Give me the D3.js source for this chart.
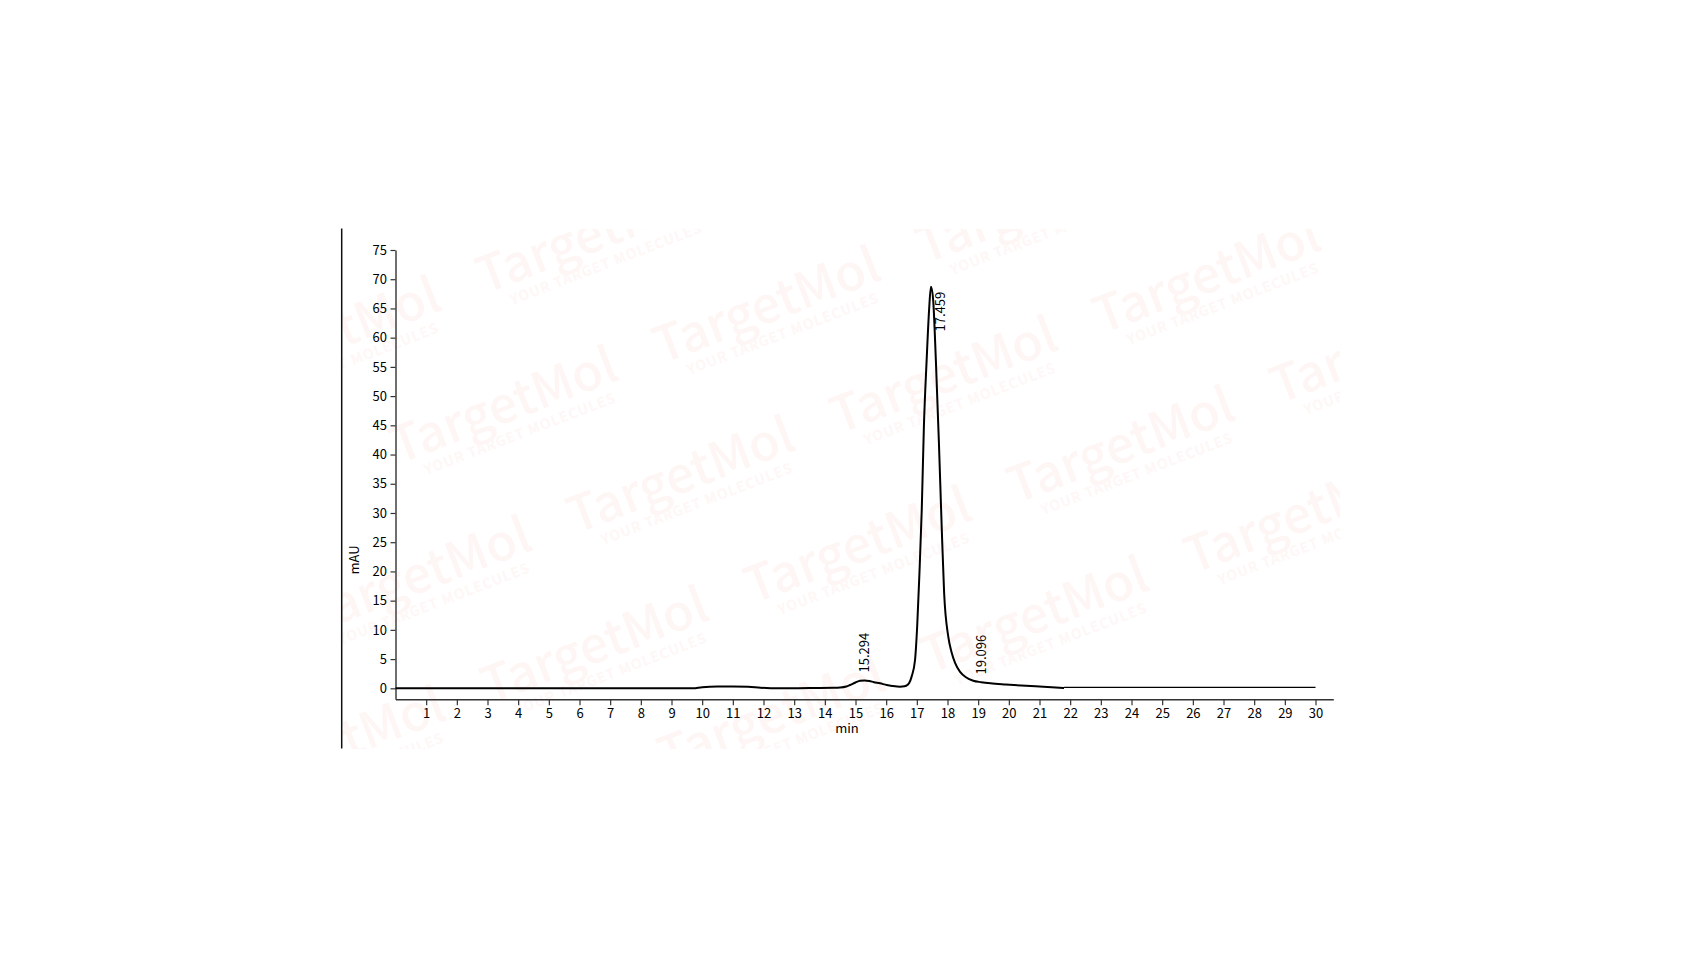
<!DOCTYPE html>
<html>
<head>
<meta charset="utf-8">
<script src="https://cdn.jsdelivr.net/npm/d3@7"></script>
<style>
  html, body { margin: 0; padding: 0; background: #fff; }
  svg { display: block; }
  text { font-family: "Noto Sans CJK SC", "Noto Sans", sans-serif; }
</style>
</head>
<body>
<svg id="chart" width="1684" height="976"></svg>
<script>
// ---- data ----
const traceTimes = [0, 9.7, 10.0, 10.5, 11.0, 11.5, 11.9, 12.5, 13.5, 14.3, 14.5, 14.7, 14.82, 15.0, 15.15, 15.3, 15.45, 15.6, 15.8, 16.02, 16.2, 16.45, 16.6, 16.69, 16.75, 16.83, 16.94, 17.01, 17.08, 17.16, 17.23, 17.32, 17.40, 17.46, 17.53, 17.62, 17.72, 17.81, 17.89, 18.02, 18.13, 18.25, 18.41, 18.6, 18.84, 19.1, 19.4, 19.9, 20.4, 21.0, 21.4, 21.8];
const traceValues = [0, 0, 0.2, 0.3, 0.3, 0.25, 0.1, 0.0, 0.05, 0.08, 0.12, 0.3, 0.56, 1.0, 1.3, 1.35, 1.25, 1.05, 0.85, 0.56, 0.4, 0.27, 0.35, 0.56, 0.9, 2.0, 4.8, 10.5, 19.1, 30.5, 44.8, 56.2, 64.8, 68.7, 66.6, 56.2, 42.0, 27.7, 16.3, 9.0, 6.2, 4.3, 2.8, 1.9, 1.3, 1.05, 0.85, 0.65, 0.48, 0.3, 0.18, 0.05];
const tailTimes = [21.8, 30];
const tailValues = [0.15, 0.15];
const peakTimes = [15.294, 17.459, 19.096];
const peakHeights = [1.35, 68.7, 1.0];
const peakLabels = ["15.294", "17.459", "19.096"];
const xTicks = d3.range(1, 31);
const yTicks = d3.range(0, 80, 5);
const watermarkMain = "TargetMol";
const watermarkSub = "YOUR TARGET MOLECULES";
// watermark lattice cells [i, j]
const watermarkCells = [[-1,0],[0,-1],[-1,1],[0,0],[1,-1],[0,1],[1,0],[2,-1],[2,0],[1,1],[3,0],[1,2],[2,1],[3,1],[2,2],[3,2],[2,3]];

// ---- layout ----
const svg = d3.select("#chart");
const x = d3.scaleLinear().domain([0, 30.58]).range([395.5, 1333.3]);
const y = d3.scaleLinear().domain([-1.88, 75]).range([699.3, 250]);

// watermark layer (clipped to chart frame)
svg.append("defs").append("clipPath").attr("id", "wmclip")
  .append("rect").attr("x", 342).attr("y", 229).attr("width", 998).attr("height", 520);
const wm = svg.append("g").attr("clip-path", "url(#wmclip)");
const origin = [765, 301], vA = [177, 70], vB = [-263, 100];
watermarkCells.forEach(([i, j]) => {
  const cx = origin[0] + i * vA[0] + j * vB[0];
  const cy = origin[1] + i * vA[1] + j * vB[1];
  const g = wm.append("g").attr("transform", `translate(${cx},${cy}) rotate(-21)`);
  g.append("text").attr("text-anchor", "middle").attr("dominant-baseline", "central")
    .attr("font-family", "'Open Sans', sans-serif").attr("font-weight", 500)
    .attr("font-size", 50).attr("fill", "#fef6f5").text(watermarkMain);
  g.append("text").attr("x", 5).attr("y", 36).attr("text-anchor", "middle").attr("dominant-baseline", "central")
    .attr("font-family", "'Open Sans', sans-serif").attr("font-weight", 700)
    .attr("font-size", 14).attr("letter-spacing", 1).attr("fill", "#fef7f6").text(watermarkSub);
});

// left frame line
svg.append("line").attr("x1", 341.7).attr("x2", 341.7).attr("y1", 228.5).attr("y2", 748.5)
  .attr("stroke", "#111").attr("stroke-width", 1.5);

// axes
const xAxis = d3.axisBottom(x).tickValues(xTicks).tickFormat(d3.format("d")).tickSizeInner(6).tickSizeOuter(0).tickPadding(3);
const yAxis = d3.axisLeft(y).tickValues(yTicks).tickFormat(d3.format("d")).tickSizeInner(5).tickSizeOuter(0).tickPadding(3.5);

const gx = svg.append("g").attr("transform", `translate(0,${y.range()[0]})`).call(xAxis);
const gy = svg.append("g").attr("transform", `translate(${x.range()[0]},0)`).call(yAxis);
[gx, gy].forEach(g => {
  g.select(".domain").attr("stroke", "#333").attr("stroke-width", 1.4);
  g.selectAll(".tick line").attr("stroke", "#333").attr("stroke-width", 1.2);
  g.selectAll(".tick text").attr("font-size", 13).attr("fill", "#000")
    .attr("font-family", "'Noto Sans CJK SC', 'Noto Sans', sans-serif");
});

// axis titles
svg.append("text").attr("x", 847).attr("y", 733).attr("text-anchor", "middle")
  .attr("font-size", 13).attr("fill", "#000").text("min");
svg.append("text").attr("transform", "translate(355.5,560) rotate(-90)").attr("text-anchor", "middle")
  .attr("dominant-baseline", "middle").attr("font-size", 13).attr("fill", "#000").text("mAU");

// trace
const line = d3.line().x(d => x(d[0])).y(d => y(d[1])).curve(d3.curveMonotoneX);
svg.append("path").datum(traceTimes.map((t, i) => [t, traceValues[i]]))
  .attr("d", line).attr("fill", "none").attr("stroke", "#000").attr("stroke-width", 2)
  .attr("stroke-linejoin", "round");
svg.append("path").datum(tailTimes.map((t, i) => [t, tailValues[i]]))
  .attr("d", line).attr("fill", "none").attr("stroke", "#000").attr("stroke-width", 1.3);

// peak labels
peakTimes.forEach((t, i) => {
  const main = i === 1;
  const px = x(t) + (main ? 10.8 : 1.3);
  const py = main ? y(peakHeights[i]) + 5 : y(peakHeights[i]) - 8;
  svg.append("text").attr("transform", `translate(${px},${py}) rotate(-90)`)
    .attr("text-anchor", main ? "end" : "start").attr("dominant-baseline", "middle")
    .attr("font-size", 13).attr("fill", "#000").text(peakLabels[i]);
});
</script>
</body>
</html>
